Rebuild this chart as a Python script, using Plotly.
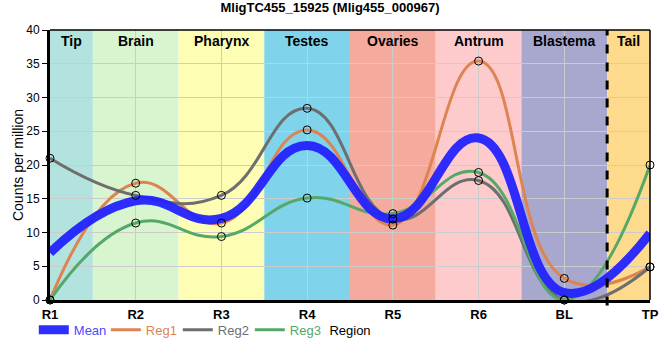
import plotly.graph_objects as go

# ---- data ----
categories = ["R1", "R2", "R3", "R4", "R5", "R6", "BL", "TP"]
regions = ["Tip", "Brain", "Pharynx", "Testes", "Ovaries", "Antrum", "Blastema", "Tail"]
mean_vals = [7.0, 14.7, 12.1, 22.9, 12.0, 24.0, 1.1, 9.9]
reg1_vals = [0.0, 17.3, 11.4, 25.2, 11.1, 35.4, 3.2, 4.9]
reg2_vals = [21.0, 15.5, 15.5, 28.4, 12.0, 17.7, 0.0, 4.9]
reg3_vals = [0.0, 11.4, 9.4, 15.1, 12.8, 18.9, 0.0, 20.0]
title_text = "MligTC455_15925 (Mlig455_000967)"

# ---- styles ----
band_colors = ["#b3e3df", "#d8f5d0", "#fdfdb4", "#7fd3ea",
               "#f4aa9d", "#fdcbcb", "#a8a8cf", "#fedb8c"]
c_mean = "rgb(35,35,255)"
c_reg1 = "#dd8452"
c_reg2 = "#6e6e6e"
c_reg3 = "#55a868"
FONT = "Liberation Sans, Arial, sans-serif"
SMOOTH = 1.3

x = list(range(len(categories)))
xmax = len(categories) - 1

fig = go.Figure()

series = [("Reg1", reg1_vals, c_reg1), ("Reg2", reg2_vals, c_reg2), ("Reg3", reg3_vals, c_reg3)]
for i, (name, vals, col) in enumerate(series):
    fig.add_trace(go.Scatter(
        x=x, y=vals, mode="lines", name=f"<span style='color:{col}'>{name}</span>",
        line=dict(color=col, width=3, shape="spline", smoothing=SMOOTH),
        legendrank=2 + i, hoverinfo="skip"))

fig.add_trace(go.Scatter(
    x=x, y=mean_vals, mode="lines", name="<span style='color:#4a4aff'>Mean</span>",
    line=dict(color=c_mean, width=9, shape="spline", smoothing=SMOOTH),
    opacity=0.95, legendrank=1, hoverinfo="skip"))

for name, vals, col in series:
    fig.add_trace(go.Scatter(
        x=x, y=vals, mode="markers", showlegend=False, hoverinfo="skip",
        marker=dict(symbol="circle-open", size=8, color="black", line=dict(width=1, color="black")),
        cliponaxis=False))

# region bands and labels
for i, (reg, col) in enumerate(zip(regions, band_colors)):
    x0 = max(i - 0.5, 0)
    x1 = min(i + 0.5, xmax)
    fig.add_shape(type="rect", xref="x", yref="y", x0=x0, x1=x1, y0=0, y1=40,
                  fillcolor=col, line=dict(width=0), layer="below")
    fig.add_annotation(x=(x0 + x1) / 2, y=40, xref="x", yref="y", text=f"<b>{reg}</b>",
                       showarrow=False, yanchor="top", yshift=-1,
                       font=dict(family=FONT, size=14, color="black"))

# dashed separator before tail
fig.add_shape(type="line", xref="x", yref="paper", x0=xmax - 0.5, x1=xmax - 0.5, y0=-0.02, y1=1,
              line=dict(color="black", width=3, dash="dash"), layer="above")
# top and right thin frame
fig.add_shape(type="line", xref="paper", yref="paper", x0=0, x1=1, y0=1, y1=1,
              line=dict(color="black", width=1.5))
fig.add_shape(type="line", xref="paper", yref="paper", x0=1, x1=1, y0=0, y1=1,
              line=dict(color="black", width=1.5))

fig.update_layout(
    width=660, height=360,
    margin=dict(l=50, r=10, t=30, b=60, autoexpand=False),
    paper_bgcolor="white", plot_bgcolor="white",
    font=dict(family=FONT, size=12, color="black"),
    title=dict(text=f"<b>{title_text}</b>", x=0.5, xanchor="center", y=0.992, yanchor="top",
               font=dict(family=FONT, size=13, color="black")),
    showlegend=True,
    legend=dict(orientation="h", x=-0.027, xanchor="left", y=-0.11, yanchor="middle",
                font=dict(family=FONT, size=13), bgcolor="rgba(0,0,0,0)",
                entrywidth=27, entrywidthmode="pixels", traceorder="normal"),
)
fig.update_xaxes(range=[0, xmax], tickmode="array", tickvals=x, automargin=False,
                 ticktext=[f"<b>{c}</b>" for c in categories],
                 tickfont=dict(family=FONT, size=13, color="black"),
                 showgrid=True, gridcolor="#cccccc", gridwidth=1,
                 showline=True, linecolor="black", linewidth=3, zeroline=False,
                 ticks="", title=dict(text="Region", standoff=6, font=dict(family=FONT, size=13)))
fig.update_yaxes(range=[0, 40], dtick=5, tick0=0, automargin=False,
                 tickfont=dict(family=FONT, size=12, color="black"),
                 showgrid=True, gridcolor="#cccccc", gridwidth=1,
                 showline=True, linecolor="black", linewidth=3, zeroline=False,
                 ticks="outside", ticklen=5, tickcolor="black",
                 title=dict(text="Counts per million", standoff=0, font=dict(family=FONT, size=14)))

fig.write_html("out.html", config={"displayModeBar": False},
               post_script="document.body.style.margin='0';")
